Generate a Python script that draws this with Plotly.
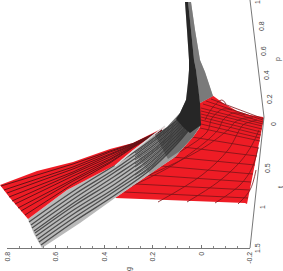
import plotly.graph_objects as go

# The reference is a rotated 3D projection, so the surfaces are read in view columns / rows.
floor_x = [115, 245, 247, 264, 263, 250, 237, 223, 212, 200, 200, 193, 175, 148]
floor_y = [198, 203, 204, 118, 117, 115, 111, 103, 95, 103, 127, 137, 157, 175]

floor_lines = [
    [(124,192),(248,198)], [(136,184),(250,190)], [(148,175),(251,182)], [(161,166),(253,174)],
    [(173,157),(255,165)], [(183,147),(257,156)], [(192,137),(259,148)], [(200,128),(260,141)],
    [(201,124),(260,138)], [(201,120),(261,135)], [(201,117),(261,132)], [(201,114),(262,129)],
    [(201,111),(262,126)], [(201,108),(263,124)], [(203,104),(263,122)], [(206,101),(263,120)],
    [(211,99),(264,119)],
    [(205,120),(213,107),(222,100),(226,104)],
    [(178,153),(207,132),(212,118),(223,109),(232,110)],
    [(132,186),(178,162),(218,130),(223,120),(233,113),(245,115)],
    [(145,177),(200,150),(230,128),(235,122),(245,118),(253,118)],
    [(158,202),(202,175),(228,150),(243,125),(250,122),(257,120)],
    [(187,202),(218,182),(240,162),(252,145),(259,130)],
    [(215,203),(240,185),(252,168),(258,148)],
    [(238,204),(250,190),(256,170)],
]

grey_x = [28,34,42,80,115,148,175,193,200,200,213,205,200,195,191,185,187,189,189,188,186,180,167,133,115,67]
grey_y = [219,234,248,223,198,175,157,137,127,103,96,72,60,30,2,2,30,60,70,83,100,113,127,150,165,190]

grey_lines = [
    [(29,222),(75,190),(115,165),(150,141),(175,122),(188,111)],
    [(31,225),(75,194),(115,169),(150,144),(175,125),(188,114)],
    [(32,228),(75,198),(115,172),(150,148),(175,128),(188,116)],
    [(34,231),(75,202),(115,176),(150,152),(175,131),(188,119)],
    [(35,233),(75,205),(115,180),(150,155),(175,134),(188,121)],
    [(36,236),(75,209),(115,184),(150,159),(175,137),(188,124)],
    [(38,239),(75,213),(115,188),(150,163),(175,140),(188,126)],
    [(39,242),(75,217),(115,191),(150,167),(175,143),(188,129)],
    [(41,245),(75,221),(115,195),(150,170),(175,146),(188,131)],
]
grey_fine_lines = [
    [(135,153),(150,142.5),(175,123.5),(188,112.5)],
    [(135,157),(150,146),(175,126.5),(188,115)],
    [(135,160),(150,150),(175,129.5),(188,117.5)],
    [(135,164),(150,153.5),(175,132.5),(188,120)],
    [(135,167),(150,157),(175,135.5),(188,122.5)],
    [(135,171),(150,161),(175,138.5),(188,125)],
    [(135,175),(150,165),(175,141.5),(188,127.5)],
    [(135,178),(150,168.5),(175,144.5),(188,130)],
]

shade1_x = [135,150,167,180,201,193,175,150]
shade1_y = [153,138,127,113,125,137,157,174]
shade2_x = [155,167,180,186,201,193,180,168]
shade2_y = [135,127,113,100,125,137,151,159]
ridge_x = [188,191,195,200,205,213,200,198,196,194,191]
ridge_y = [2,2,30,60,72,96,103,90,70,60,30]
dark_x = [185,188,191,194,196,198,200,201,190,184,176,180,186,188,189,189,187]
dark_y = [2,2,30,60,70,90,103,125,133,128,119,113,100,83,70,60,30]

band_x = [0,37,73,110,133,165,133,115,67,28,10]
band_y = [185,171,162,149,143,127,150,165,190,219,198]
band_lines = [
    [(1,186),(73,164),(110,151),(133,143.5),(162,130)],
    [(4,190),(73,167),(110,152),(133,144),(162,130)],
    [(7,193),(73,169),(110,154),(133,144.5),(162,130)],
    [(9,197),(73,172),(110,155),(133,145),(162,130)],
    [(12,201),(73,174),(110,157),(133,145.5),(162,130)],
    [(15,204),(73,176),(110,159),(133,146),(162,130)],
    [(18,208),(73,179),(110,160),(133,146.5),(162,130)],
    [(21,211),(73,181),(110,162),(133,147),(162,130)],
    [(25,215),(73,184),(110,163),(133,147.5),(162,130)],
]
seam_x = [115,133,165]
seam_y = [166,151,126]

# axes
g_ticks = [-0.2, 0, 0.2, 0.4, 0.6, 0.8]
g_labels = ["-0.2", "0", "0.2", "0.4", "0.6", "0.8"]
g_minor = [-0.15,-0.1,-0.05,0.05,0.1,0.15,0.25,0.3,0.35,0.45,0.5,0.55,0.65,0.7,0.75]
side_axis_x = [250, 264, 250]
side_axis_y = [248, 117, 0]
t_labels = ["0", "0.5", "1", "1.5"]
t_label_x = [273, 267, 262, 257]
t_label_y = [124, 168, 207, 248]
p_labels = ["0.2", "0.4", "0.6", "0.8", "1"]
p_label_x = [269, 266, 263, 261, 257]
p_label_y = [99, 75, 51, 26, 2]
name_labels = ["g", "t", "p"]
name_x = [129, 280, 278]
name_y = [269, 187, 59]

RED = "#ee1c25"
fig = go.Figure()

def poly(x, y, color):
    fig.add_trace(go.Scatter(x=x, y=y, mode="lines", fill="toself", fillcolor=color,
                             line=dict(color=color, width=0), hoverinfo="skip"))

def polyline(pts, color, width, shape="linear"):
    fig.add_trace(go.Scatter(x=[p[0] for p in pts], y=[p[1] for p in pts], mode="lines",
                             line=dict(color=color, width=width, shape=shape), hoverinfo="skip"))

poly(floor_x, floor_y, RED)
for l in floor_lines:
    polyline(l, "#7a1418", 0.8, "spline")
poly(grey_x, grey_y, "#b9b9b9")
for l in grey_lines:
    polyline(l, "#4d4d4d", 1.3, "spline")
for l in grey_fine_lines:
    polyline(l, "#4d4d4d", 0.9, "spline")
poly(shade1_x, shade1_y, "rgba(60,60,60,0.22)")
poly(shade2_x, shade2_y, "rgba(40,40,40,0.4)")
poly(ridge_x, ridge_y, "#7a7a7a")
poly(dark_x, dark_y, "#262626")
poly(band_x, band_y, RED)
for l in band_lines:
    polyline(l, "#651216", 1.0)
polyline(list(zip(seam_x, seam_y)), "#dcdcdc", 1.4)
polyline(list(zip(side_axis_x, side_axis_y)), "#777777", 1)

# real g axis, on its own axes
fig.add_trace(go.Scatter(x=g_ticks, y=[0]*len(g_ticks), xaxis="x2", yaxis="y2", mode="none", hoverinfo="skip"))

annos = []
for texts, xs, ys in [(t_labels, t_label_x, t_label_y), (p_labels, p_label_x, p_label_y), (name_labels, name_x, name_y)]:
    for s, x, y in zip(texts, xs, ys):
        annos.append(dict(text=s, x=x, y=y, xref="x", yref="y", showarrow=False, textangle=-90,
                          xanchor="center", yanchor="middle", borderpad=0,
                          font=dict(family="Liberation Sans", size=7, color="#444444")))

fig.update_layout(
    template="none",
    width=283, height=271, autosize=False, showlegend=False,
    margin=dict(l=0, r=0, t=0, b=0, pad=0), paper_bgcolor="white", plot_bgcolor="rgba(0,0,0,0)",
    xaxis=dict(range=[0, 283], domain=[0, 1], visible=False, fixedrange=True, automargin=False),
    yaxis=dict(range=[271, 0], domain=[0, 1], visible=False, fixedrange=True, automargin=False),
    xaxis2=dict(range=[0.8, -0.2], domain=[7.3/283, 250/283], anchor="y2", side="bottom", automargin=False,
                showgrid=False, zeroline=False, showline=True, linecolor="#777777", linewidth=1,
                tickmode="array", tickvals=g_ticks, ticktext=g_labels, tickangle=-90,
                ticks="inside", ticklen=3, tickcolor="#777777", tickwidth=1,
                tickfont=dict(family="Liberation Sans", size=7, color="#444444"),
                minor=dict(ticks="inside", ticklen=2, tickcolor="#888888", tickmode="array", tickvals=g_minor),
                fixedrange=True),
    yaxis2=dict(range=[0, 1], domain=[23/271, 1], anchor="x2", visible=False, fixedrange=True, automargin=False),
    annotations=annos,
)

fig.write_html("out.html", config={"displayModeBar": False},
               post_script="document.body.style.margin='0';document.body.style.overflow='hidden';")
